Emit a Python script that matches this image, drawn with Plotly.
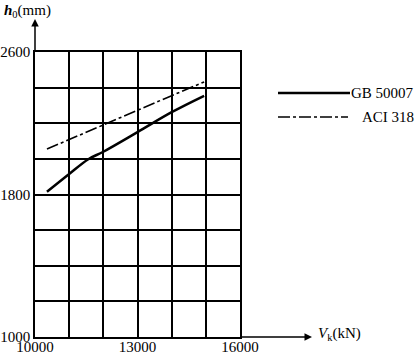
import plotly.graph_objects as go

# ---- data ----
x_gb = [10350, 11000, 11560, 12000, 13000, 14000, 14950]
y_gb = [1815, 1915, 1998, 2040, 2150, 2262, 2354]
x_aci = [10350, 12000, 13000, 14000, 14950]
y_aci = [2055, 2192, 2272, 2355, 2432]

x_tickvals = [10000, 13000, 16000]
x_ticktext = ["10000", "13000", "16000"]
y_tickvals = [1000, 1800, 2600]
y_ticktext = ["1000", "1800", "2600"]
x_grid_step = 1000
y_grid_step = 200

FONT = "Liberation Serif"
L, R, T, B = 35, 180, 52, 20
W, H = 420, 357
PW, PH = W - L - R, H - T - B

def px(xp):
    return (xp - L) / PW

def py(yp):
    return (H - B - yp) / PH

fig = go.Figure()
fig.add_trace(go.Scatter(x=x_gb, y=y_gb, mode="lines",
                         line=dict(color="black", width=2.5, shape="spline", smoothing=1.0),
                         showlegend=False, hoverinfo="skip"))
fig.add_trace(go.Scatter(x=x_aci, y=y_aci, mode="lines",
                         line=dict(color="black", width=1.6, dash="12px,3px,3px,3px"),
                         showlegend=False, hoverinfo="skip"))

axis_common = dict(showgrid=True, gridcolor="black", gridwidth=1.5,
                   showline=True, linecolor="black", linewidth=1.5, mirror=True,
                   zeroline=False, ticks="",
                   tickfont=dict(family=FONT, size=15, color="black"))

fig.update_xaxes(range=[10000, 16000], tickvals=x_tickvals, ticktext=x_ticktext,
                 ticklabelstandoff=-5,
                 minor=dict(dtick=x_grid_step, tick0=10000, showgrid=True,
                            gridcolor="black", gridwidth=1.5, ticks=""),
                 **axis_common)
fig.update_yaxes(range=[1000, 2600], tickvals=y_tickvals, ticktext=y_ticktext,
                 ticklabelstandoff=0,
                 minor=dict(dtick=y_grid_step, tick0=1000, showgrid=True,
                            gridcolor="black", gridwidth=1.5, ticks=""),
                 **axis_common)

shapes = [
    dict(type="line", xref="paper", yref="paper", x0=px(278), x1=px(350), y0=py(93), y1=py(93),
         line=dict(color="black", width=2.5)),
    dict(type="line", xref="paper", yref="paper", x0=px(278), x1=px(348), y0=py(117), y1=py(117),
         line=dict(color="black", width=1.6, dash="12px,3px,3px,3px")),
]

annotations = [
    dict(xref="paper", yref="paper", x=0, y=py(19), ax=0, ay=33, text="", showarrow=True,
         arrowhead=2, arrowsize=1, arrowwidth=1.5, arrowcolor="black"),
    dict(xref="paper", yref="paper", x=px(312), y=0, ax=-72, ay=0, text="", showarrow=True,
         arrowhead=2, arrowsize=1, arrowwidth=1.5, arrowcolor="black"),
    dict(xref="paper", yref="paper", x=px(2), y=py(11), xanchor="left", yanchor="middle",
         text="<b><i>h</i></b><sub>0</sub>(mm)", showarrow=False,
         font=dict(family=FONT, size=15, color="black")),
    dict(xref="paper", yref="paper", x=px(316), y=py(334), xanchor="left", yanchor="middle",
         text="<i>V</i><sub>k</sub>(kN)", showarrow=False,
         font=dict(family=FONT, size=15, color="black")),
    dict(xref="paper", yref="paper", x=px(349), y=py(93), xanchor="left", yanchor="middle",
         text="GB 50007", showarrow=False, font=dict(family=FONT, size=15, color="black")),
    dict(xref="paper", yref="paper", x=px(360), y=py(117), xanchor="left", yanchor="middle",
         text="ACI 318", showarrow=False, font=dict(family=FONT, size=15, color="black")),
]

fig.update_layout(width=W, height=H, margin=dict(l=L, r=R, t=T, b=B, autoexpand=False),
                  paper_bgcolor="white", plot_bgcolor="white",
                  shapes=shapes, annotations=annotations, showlegend=False,
                  hovermode=False)

fig.write_html("out.html", config={"displayModeBar": False},
               post_script="document.body.style.margin='0px';")
